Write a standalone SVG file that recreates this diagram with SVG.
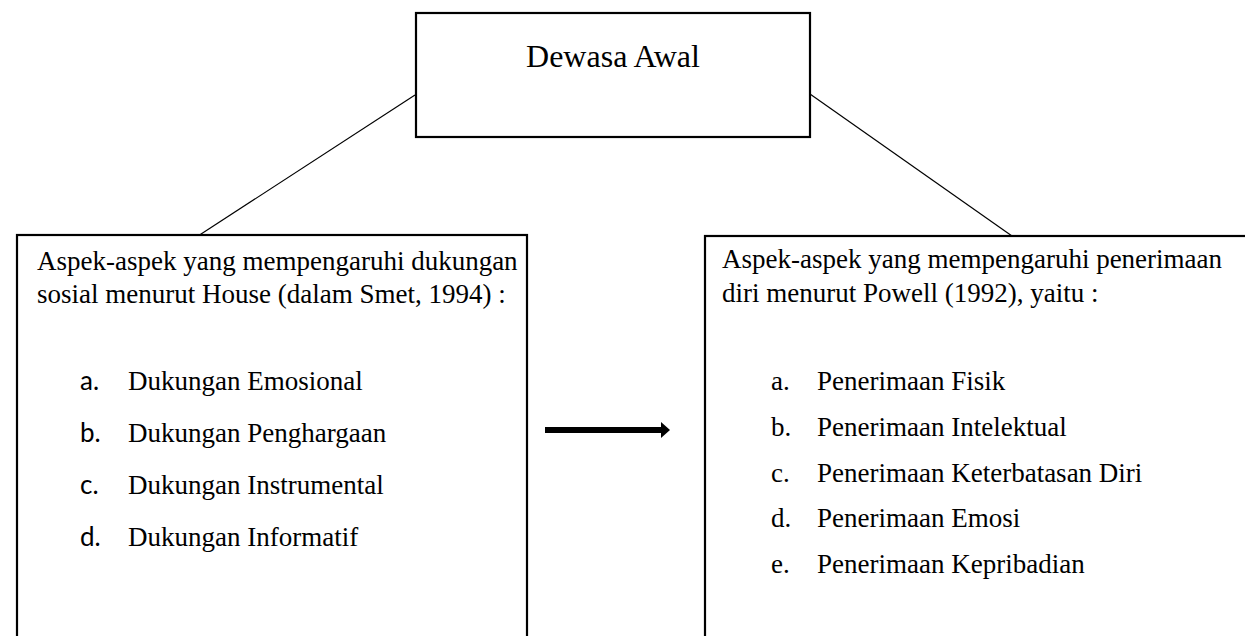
<svg xmlns="http://www.w3.org/2000/svg" width="1245" height="636" viewBox="0 0 1245 636">
<style>
.box{fill:#fff;stroke:#000;stroke-width:2.2}
.ln{stroke:#000;stroke-width:1.2;fill:none}
.t{font-family:"Liberation Serif","Times New Roman",serif;font-size:27px;fill:#000}
.title{font-family:"Liberation Serif","Times New Roman",serif;font-size:32px;fill:#000}
.lbl{font-family:Lato,"Open Sans","Liberation Sans",sans-serif;font-size:26px;fill:#000}
</style>
<g id="connectors">
<line class="ln" x1="415" y1="95" x2="198" y2="236"/>
<line class="ln" x1="810" y1="94" x2="1012" y2="236"/>
<path d="M545,427 L661,427 L661,422 L670,430 L661,438 L661,433 L545,433 Z" fill="#000"/>
</g>
<g id="top">
<rect class="box" x="416" y="13" width="394" height="124"/>
<text class="title" x="613" y="67" text-anchor="middle">Dewasa Awal</text>
</g>
<g id="left">
<rect class="box" x="17" y="235" width="510" height="420"/>
<text class="t" x="37" y="270">Aspek-aspek yang mempengaruhi dukungan</text>
<text class="t" x="37" y="303">sosial menurut House (dalam Smet, 1994) :</text>
<text class="lbl" x="80" y="390">a.</text><text class="t" x="128" y="390">Dukungan Emosional</text>
<text class="lbl" x="80" y="442">b.</text><text class="t" x="128" y="442">Dukungan Penghargaan</text>
<text class="lbl" x="80" y="494">c.</text><text class="t" x="128" y="494">Dukungan Instrumental</text>
<text class="lbl" x="80" y="546">d.</text><text class="t" x="128" y="546">Dukungan Informatif</text>
</g>
<g id="right">
<rect class="box" x="705" y="236" width="560" height="420"/>
<text class="t" x="722" y="268">Aspek-aspek yang mempengaruhi penerimaan</text>
<text class="t" x="722" y="302">diri menurut Powell (1992), yaitu :</text>
<text class="t" x="771" y="390">a.</text><text class="t" x="817" y="390">Penerimaan Fisik</text>
<text class="t" x="771" y="436">b.</text><text class="t" x="817" y="436">Penerimaan Intelektual</text>
<text class="t" x="771" y="482">c.</text><text class="t" x="817" y="482">Penerimaan Keterbatasan Diri</text>
<text class="t" x="771" y="527">d.</text><text class="t" x="817" y="527">Penerimaan Emosi</text>
<text class="t" x="771" y="573">e.</text><text class="t" x="817" y="573">Penerimaan Kepribadian</text>
</g>
</svg>
